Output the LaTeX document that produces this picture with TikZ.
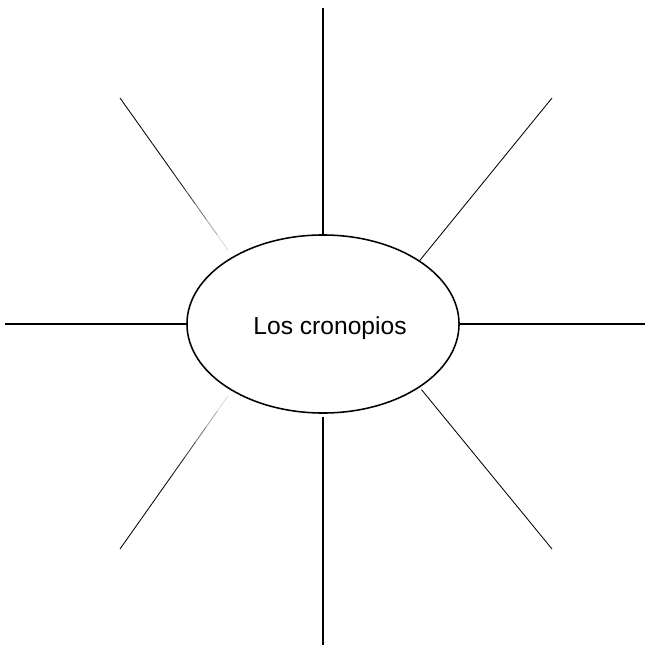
\documentclass[tikz,border=0pt]{standalone}
\usepackage{fontspec}
\setmainfont{Liberation Sans}
\usetikzlibrary{shapes.geometric,calc}
\tikzstyle{ray} = [line width=1pt]
\tikzstyle{thinray} = [line width=0.6pt]

\begin{document}
\begin{tikzpicture}[x=0.025cm, y=-0.025cm]
    \useasboundingbox (0,0) rectangle (645,648);

    % Center
    \node[draw, ellipse, line width=1.1pt, minimum width=6.8cm, minimum height=4.45cm, inner sep=0pt, font=\fontsize{17.5}{20}\selectfont] (cron) at (323,324) {\hspace*{0.35cm}\raisebox{-0.1cm}[\height][\depth]{Los cronopios}};

    % Free ends
    \coordinate (n) at (323,8);
    \coordinate (s) at (323,645);
    \coordinate (w) at (5,324);
    \coordinate (e) at (645,324);
    \coordinate (ne) at (552,98);
    \coordinate (se) at (552,549);
    \coordinate (nw) at (120,98);
    \coordinate (sw) at (120,549);
    \coordinate (nwin) at (228,250);
    \coordinate (swin) at (228,396);

    % Straight rays
    \draw[ray] (cron.north) -- (n);
    \draw[ray, shorten <=2pt] (cron.south) -- (s);
    \draw[ray] (cron.west) -- (w);
    \draw[ray] (cron.east) -- (e);
    \draw[thinray] (cron.north east) -- (ne);
    \draw[thinray, shorten <=2pt] (cron.south east) -- (se);

    % Fading rays
    \foreach \k/\g in {0/100,1/100,2/100,3/100,4/100,5/90,6/75,7/55,8/35,9/15} {
        \draw[thinray, black!\g] ($(nw)!\k/10!(nwin)$) -- ($(nw)!\k/10+0.1!(nwin)$);
        \draw[thinray, black!\g] ($(sw)!\k/10!(swin)$) -- ($(sw)!\k/10+0.1!(swin)$);
    }
\end{tikzpicture}
\end{document}
